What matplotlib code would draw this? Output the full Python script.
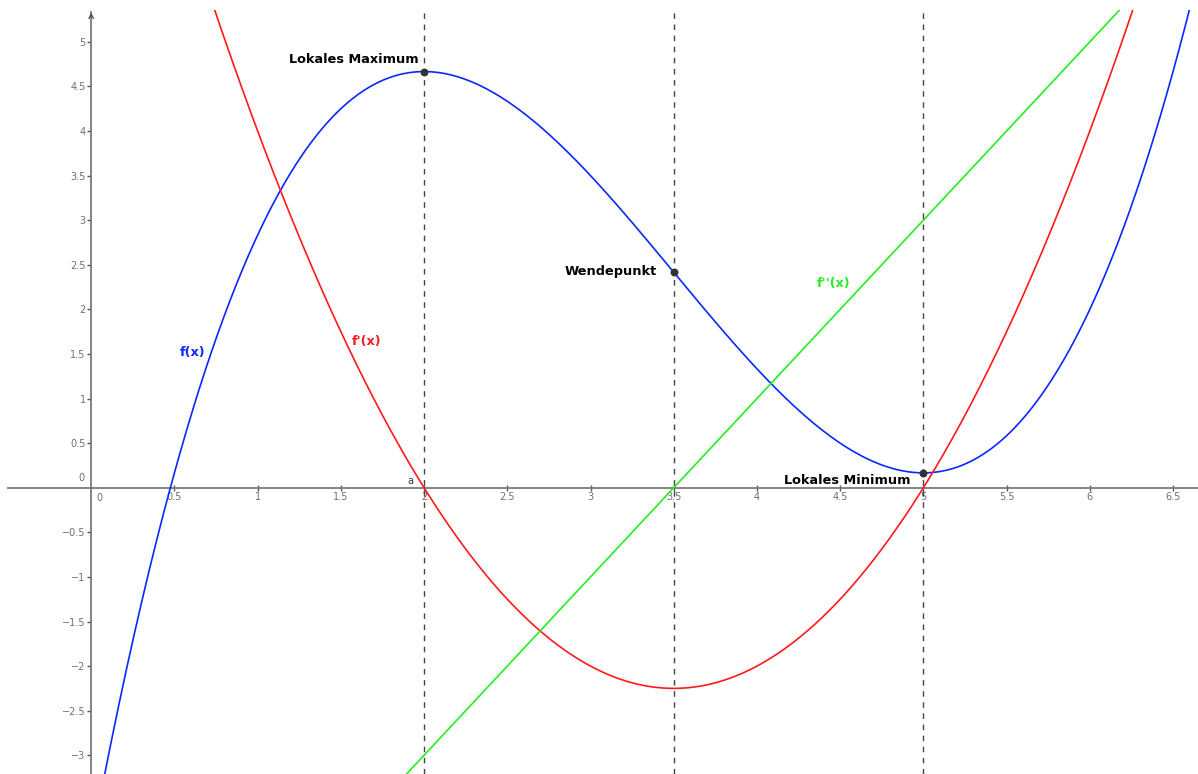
import numpy as np
import matplotlib.pyplot as plt

# Polynomkoeffizienten (Max bei x=2, Wendepunkt bei x=3.5, Min bei x=5)
f_koeff = [1 / 3, -3.5, 10, -4]
f1_koeff = [1, -7, 10]
f2_koeff = [2, -7]

# markierte Punkte
punkt_x = [2, 3.5, 5]
punkt_namen = ['Lokales Maximum', 'Wendepunkt', 'Lokales Minimum']

# Achsenbeschriftung
x_ticks = [0.5, 1, 1.5, 2, 2.5, 3, 3.5, 4, 4.5, 5, 5.5, 6, 6.5]
y_ticks = [-3, -2.5, -2, -1.5, -1, -0.5, 0.5, 1, 1.5, 2, 2.5, 3, 3.5, 4, 4.5, 5]

achse_grau = '#7a7a7a'
text_grau = '#707070'

fig = plt.figure(figsize=(11.98, 7.74), dpi=100)
ax = fig.add_axes([0, 0, 1, 764 / 774])
ax.set_xlim(-0.548, 6.65)
ax.set_ylim(-3.21, 5.357)

for s in ['top', 'right']:
    ax.spines[s].set_visible(False)
ax.spines['left'].set_position(('data', 0))
ax.spines['bottom'].set_position(('data', 0))
ax.spines['left'].set_bounds(-3.21, 5.33)
ax.spines['bottom'].set_bounds(-0.5, 6.65)
for s in ['left', 'bottom']:
    ax.spines[s].set_color(achse_grau)
    ax.spines[s].set_linewidth(1.3)

ax.set_xticks(x_ticks)
ax.set_xticklabels([f'{t:g}' for t in x_ticks])
ax.set_yticks(y_ticks)
ax.set_yticklabels([f'{t:g}'.replace('-', '\u2212') for t in y_ticks])
ax.tick_params(axis='x', direction='inout', length=4, width=1, color='#555555',
               labelsize=7, labelcolor=text_grau, pad=1)
ax.tick_params(axis='y', direction='out', length=3, width=1, color='#555555',
               labelsize=7, labelcolor=text_grau, pad=1)
ax.text(0.05, -0.06, '0', fontsize=7, color=text_grau, ha='center', va='top')
ax.text(-0.04, 0.05, '0', fontsize=7, color=text_grau, ha='right', va='bottom')
ax.annotate('', xy=(0, 5.36), xytext=(0, 5.25), annotation_clip=False,
            arrowprops=dict(arrowstyle='->', color='#555555', lw=1, mutation_scale=8))

x = np.linspace(-0.6, 6.7, 800)
ax.plot(x, np.polyval(f_koeff, x), color='#0a28ff', lw=1.2, zorder=3)
ax.plot(x, np.polyval(f1_koeff, x), color='#ff1a1a', lw=1.2, zorder=3)
ax.plot(x, np.polyval(f2_koeff, x), color='#22ee22', lw=1.2, zorder=3)

for px in punkt_x:
    ax.axvline(px, ymin=0, ymax=0.997, color='#444444', lw=1, ls=(0, (4, 4)), zorder=4)

py = np.polyval(f_koeff, punkt_x)
ax.scatter(punkt_x, py, s=22, color='#333333', zorder=5)

ax.text(1.97, 4.80, punkt_namen[0], fontsize=9.3, fontweight='bold', ha='right', va='center')
ax.text(3.40, 2.42, punkt_namen[1], fontsize=9.3, fontweight='bold', ha='right', va='center')
ax.text(4.92, 0.08, punkt_namen[2], fontsize=9.3, fontweight='bold', ha='right', va='center')

ax.text(0.534, 1.52, 'f(x)', fontsize=9.3, fontweight='bold', color='#0a28ff', va='center')
ax.text(1.567, 1.64, "f'(x)", fontsize=9.3, fontweight='bold', color='#ff1a1a', va='center')
ax.text(4.36, 2.29, "f''(x)", fontsize=9.3, fontweight='bold', color='#22ee22', va='center')
ax.text(1.92, 0.02, 'a', fontsize=7, color='#333333', ha='center', va='bottom')

fig.savefig('out.png', dpi=100)
